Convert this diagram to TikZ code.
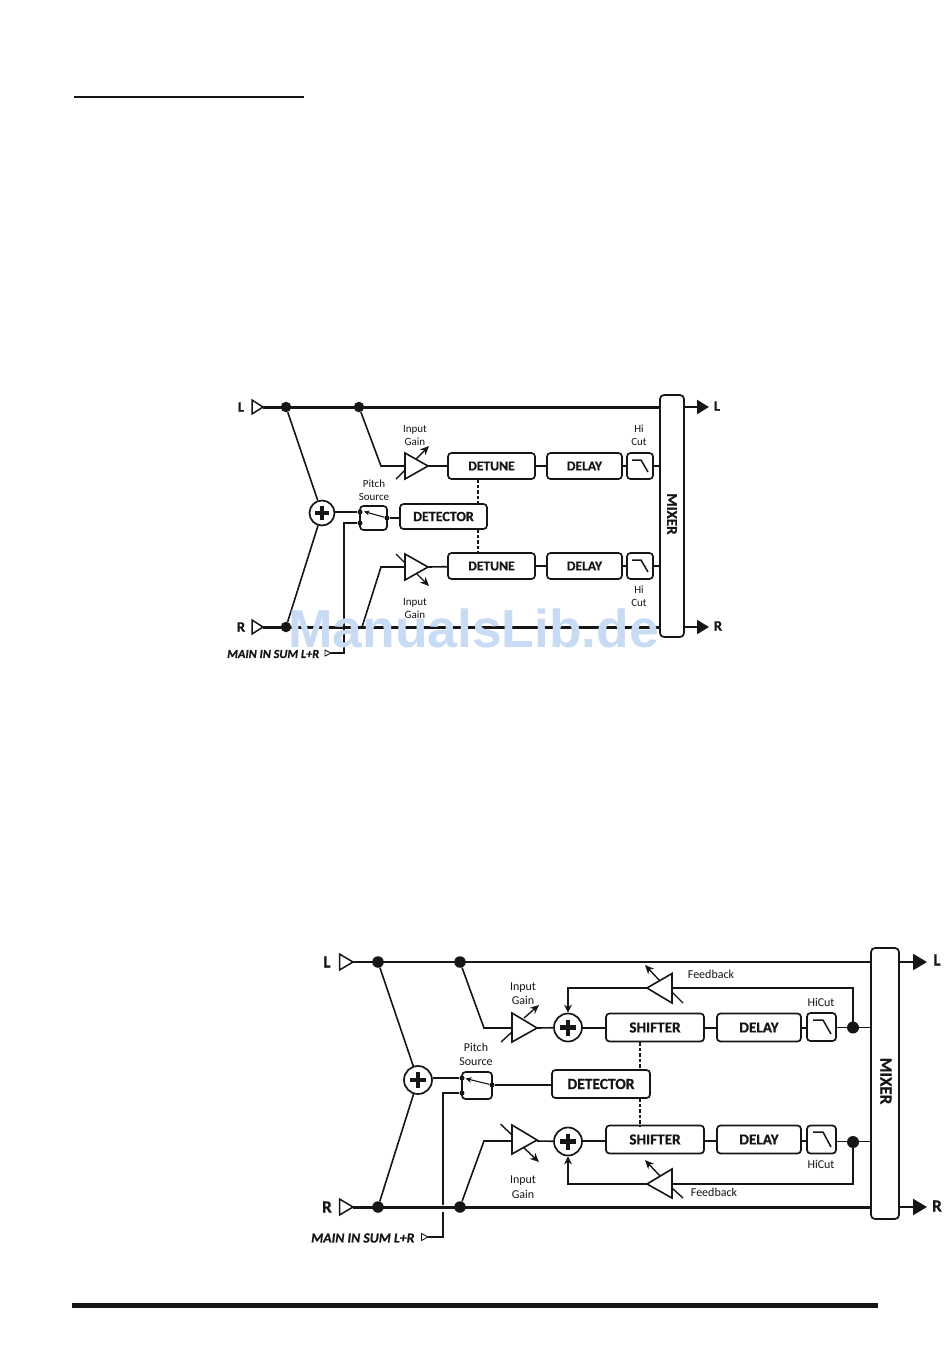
\documentclass[tikz,border=0pt]{standalone}
\usepackage{fontspec}
\setmainfont[BoldFeatures={FakeBold=0.6},BoldItalicFeatures={FakeBold=0.6}]{Carlito}
\newfontfamily\wmfont{Liberation Sans}
\usetikzlibrary{arrows.meta}
\definecolor{ink}{HTML}{161616}
\definecolor{wm}{HTML}{C8DBF4}
\tikzset{
  wire/.style={draw=ink,line width=1.6pt},
  busa/.style={draw=ink,line width=3pt},
  busb/.style={draw=ink,line width=2.4pt},
  fbk/.style={draw=ink,line width=2.4pt,line join=miter},
  amp/.style={draw=ink,line width=1.6pt,fill=white,line join=miter},
  glyph/.style={draw=ink,line width=1.5pt},
  varr/.style={draw=ink,line width=1.4pt,-{Stealth[length=9pt,width=8pt]}},
  varl/.style={draw=ink,line width=1.4pt},
  dashw/.style={draw=ink,line width=1.3pt,dash pattern=on 3.5pt off 2pt},
  outarr/.style={draw=ink,line width=2.4pt,-{Triangle[length=12pt,width=14pt]}},
  box/.style={draw=ink,line width=1.7pt,rounded corners=3.5pt,fill=white,inner sep=0pt,text=ink,font=\fontsize{13.6}{14}\bfseries\selectfont},
  boxb/.style={box,font=\fontsize{15.2}{16}\bfseries\selectfont},
  sumc/.style={draw=ink,circle,line width=1.7pt,fill=white,inner sep=0pt},
  dotn/.style={circle,fill=ink,inner sep=0pt,minimum size=10.5pt},
  dots/.style={circle,fill=ink,inner sep=0pt,minimum size=5pt},
  intri/.style={draw=ink,line width=1.5pt,fill=white},
  lab/.style={text=ink,align=center,inner sep=0pt,font=\fontsize{11}{13}\selectfont},
  labb/.style={text=ink,align=center,inner sep=0pt,font=\fontsize{12}{14.5}\selectfont},
  port/.style={text=ink,inner sep=0pt,font=\fontsize{14.5}{15}\bfseries\selectfont},
  portb/.style={text=ink,inner sep=0pt,font=\fontsize{17}{18}\bfseries\selectfont},
  mainlab/.style={text=ink,inner sep=0pt,font=\fontsize{12.3}{13}\bfseries\itshape\selectfont},
  mainlabb/.style={text=ink,inner sep=0pt,font=\fontsize{13.8}{14}\bfseries\itshape\selectfont},
  plusm/.style={draw=ink,line width=4pt}
}
\begin{document}
\begin{tikzpicture}[x=1pt,y=-1pt]
\useasboundingbox (0,0) rectangle (950,1361);
\fill[white] (0,0) rectangle (950,1361);
% page rules
\coordinate (ruleAa) at (74,97); \coordinate (ruleAb) at (304,97);
\coordinate (ruleBa) at (72,1305); \coordinate (ruleBb) at (878,1305);
\draw[draw=ink,line width=1.1pt] (ruleAa) -- (ruleAb);
\draw[draw=ink,line width=5pt] (ruleBa) -- (ruleBb);

%% ================= DIAGRAM 1 =================
\node[port] (aLin) at (241,407) {L};
\node[port] (aRin) at (241,627) {R};
\coordinate (aLt) at (263,407); \coordinate (aRt) at (263,627);
\node[dotn] (aD1) at (286,407) {};
\node[dotn] (aD2) at (359,407) {};
\node[dotn] (aD3) at (286,627) {};
\coordinate (aD4) at (359,627);
\node[box,minimum width=24pt,minimum height=242pt,rounded corners=4pt] (aMix) at (672,516) {};
\node[text=ink,inner sep=0pt,rotate=-90,font=\fontsize{15}{16}\bfseries\selectfont] (aMixT) at (672,514) {MIXER};
\coordinate (aMixL) at (660,407); \coordinate (aMixR) at (660,627);
\coordinate (aMixA) at (660,466); \coordinate (aMixB) at (660,566);
\coordinate (aOL) at (684,407); \coordinate (aOR) at (684,627);
\coordinate (aOLt) at (709,407); \coordinate (aORt) at (709,627);
\node[port] (aLout) at (717,406) {L};
\node[port] (aRout) at (718,626) {R};
\draw[busa] (aLt) -- (aMixL);
\draw[busa] (aRt) -- (aMixR);
\draw[outarr] (aOL) -- (aOLt);
\draw[outarr] (aOR) -- (aORt);
\draw[intri] (252,400) -- (263,407) -- (252,414) -- cycle;
\draw[intri] (252,620) -- (263,627) -- (252,634) -- cycle;
\node[sumc,minimum size=25pt] (aSum) at (322,513) {};
\draw[wire] (aD1) -- (aSum);
\draw[wire] (aD3) -- (aSum);
\draw[plusm] (315,513) -- (329,513);
\draw[plusm] (322,506) -- (322,520);
% switch
\node[box,minimum width=27pt,minimum height=24pt] (aSw) at (373.5,518) {};
\node[dots] (aS1) at (360,512) {};
\node[dots] (aS2) at (360,523) {};
\node[dots] (aS3) at (387,518) {};
\draw[draw=ink,line width=2.4pt] (aSum.east |- aS1) -- (aS1);
\coordinate (aMa) at (344,523); \coordinate (aMb) at (344,653); \coordinate (aMc) at (331,653);
\draw[wire] (aS2) -- (aMa) -- (aMb) -- (aMc);
\draw[intri,line width=.9pt] (325,650) -- (331,653) -- (325,656) -- cycle;
\draw[varr,line width=1.1pt,-{Stealth[length=5.5pt,width=5pt]}] (aS3) -- (364,511.5);
\node[box,font=\fontsize{14}{15}\bfseries\selectfont,minimum width=87pt,minimum height=25pt] (aDet) at (443.5,516.5) {DETECTOR};
\draw[wire] (aS3) -- (aDet.west |- aS3);
% amps
\coordinate (aA1) at (381,466); \coordinate (aA1i) at (405,466); \coordinate (aA1o) at (428,466);
\coordinate (aA2) at (381,567); \coordinate (aA2i) at (405,567); \coordinate (aA2o) at (428,567);
\coordinate (aD4b) at (362,627);
\draw[wire] (aD2) -- (aA1) -- (aA1i);
\draw[wire] (aD4b) -- (aA2) -- (aA2i);
\draw[amp] (405,453) -- (428,466) -- (405,479) -- cycle;
\draw[amp] (405,554) -- (428,567) -- (405,580) -- cycle;
\draw[varl] (396,479) -- (405,470);
\draw[varr] (416,459) -- (429,446);
\draw[varl] (396,554) -- (405,563);
\draw[varr] (416,573) -- (429,586);
\node[box,minimum width=87pt,minimum height=26pt] (aDt1) at (491.5,466) {DETUNE};
\node[box,minimum width=87pt,minimum height=26pt] (aDt2) at (491.5,566) {DETUNE};
\node[box,minimum width=75pt,minimum height=26pt] (aDl1) at (584.5,466) {DELAY};
\node[box,minimum width=75pt,minimum height=26pt] (aDl2) at (584.5,566) {DELAY};
\node[box,minimum width=26pt,minimum height=26pt] (aHc1) at (640,466) {};
\node[box,minimum width=26pt,minimum height=26pt] (aHc2) at (640,566) {};
\draw[glyph] (632,460) -- (641,460) -- (648,472);
\draw[glyph] (632,560) -- (641,560) -- (648,572);
\draw[wire] (aA1o) -- (aDt1);
\draw[wire] (aA2o) -- (aDt2);
\draw[wire] (aDt1) -- (aDl1);
\draw[wire] (aDt2) -- (aDl2);
\draw[wire] (aDl1) -- (aHc1);
\draw[wire] (aDl2) -- (aHc2);
\draw[wire] (aHc1) -- (aMixA);
\draw[wire] (aHc2) -- (aMixB);
\draw[dashw] (478,479) -- (478,504);
\draw[dashw] (478,529) -- (478,553);
\node[lab] (aIg1) at (415,435.5) {Input\\Gain};
\node[lab] (aIg2) at (415,608.5) {Input\\Gain};
\node[lab] (aPs) at (374,490.5) {Pitch\\Source};
\node[lab] (aHl1) at (639,435.5) {Hi\\Cut};
\node[lab] (aHl2) at (639,596) {Hi\\Cut};
\node[mainlab,anchor=west] (aMain) at (227,654) {MAIN IN SUM L+R};

%% ================= DIAGRAM 2 =================
\node[portb] (bLin) at (327,962) {L};
\node[portb] (bRin) at (327,1207) {R};
\coordinate (bLt) at (353,962); \coordinate (bRt) at (353,1207);
\node[dotn,minimum size=11.5pt] (bD1) at (378,962) {};
\node[dotn,minimum size=11.5pt] (bD2) at (460,962) {};
\node[dotn,minimum size=11.5pt] (bD3) at (378,1207) {};
\node[dotn,minimum size=11.5pt] (bD4) at (460,1207) {};
\node[box,minimum width=28pt,minimum height=271pt,rounded corners=4pt] (bMix) at (885,1083.5) {};
\node[text=ink,inner sep=0pt,rotate=-90,font=\fontsize{17}{18}\bfseries\selectfont] (bMixT) at (886,1081) {MIXER};
\coordinate (bMixL) at (871,962); \coordinate (bMixR) at (871,1207);
\coordinate (bOL) at (899,962); \coordinate (bOR) at (899,1207);
\coordinate (bOLt) at (927,962); \coordinate (bORt) at (927,1207);
\node[portb] (bLout) at (937,960) {L};
\node[portb] (bRout) at (937,1206) {R};
\draw[busb] (bLt) -- (bMixL);
\draw[busa] (bRt) -- (bMixR);
\draw[draw=ink,line width=2.4pt,-{Triangle[length=14pt,width=16pt]}] (bOL) -- (bOLt);
\draw[draw=ink,line width=2.4pt,-{Triangle[length=14pt,width=16pt]}] (bOR) -- (bORt);
\draw[intri] (339.5,954) -- (353,962) -- (339.5,970) -- cycle;
\draw[intri] (339.5,1199) -- (353,1207) -- (339.5,1215) -- cycle;
\node[sumc,minimum size=28pt] (bSum) at (418,1080) {};
\draw[wire] (bD1) -- (bSum);
\draw[wire] (bD3) -- (bSum);
\draw[plusm,line width=4.5pt] (410,1080) -- (426,1080);
\draw[plusm,line width=4.5pt] (418,1072) -- (418,1088);
% switch
\node[box,minimum width=30pt,minimum height=27pt] (bSw) at (477,1085.5) {};
\node[dots] (bS1) at (462,1078) {};
\node[dots] (bS2) at (462,1093) {};
\node[dots] (bS3) at (492,1085) {};
\draw[draw=ink,line width=2.6pt] (bSum.east |- bS1) -- (bS1);
\coordinate (bMa) at (443,1093); \coordinate (bMb) at (443,1204.5); \coordinate (bMb2) at (443,1212); \coordinate (bMc) at (443,1237); \coordinate (bMd) at (428,1237);
\draw[wire] (bS2) -- (bMa) -- (bMb);
\draw[wire] (bMb2) -- (bMc) -- (bMd);
\draw[intri,line width=.9pt] (421.5,1233.5) -- (428,1237) -- (421.5,1240.5) -- cycle;
\draw[varr,line width=1.1pt,-{Stealth[length=6pt,width=5.5pt]}] (bS3) -- (465.5,1078.5);
\node[box,font=\fontsize{15.5}{16}\bfseries\selectfont,minimum width=98pt,minimum height=28pt] (bDet) at (601,1084) {DETECTOR};
\draw[wire] (bS3) -- (bDet.west |- bS3);
% input amps
\coordinate (bA1) at (484,1028); \coordinate (bA1i) at (512,1028); \coordinate (bA1o) at (537,1028);
\coordinate (bA2) at (484,1141); \coordinate (bA2i) at (512,1141); \coordinate (bA2o) at (537,1141);
\draw[wire] (bD2) -- (bA1) -- (bA1i);
\draw[wire] (bD4) -- (bA2) -- (bA2i);
\draw[amp] (512,1013) -- (537,1028) -- (512,1042) -- cycle;
\draw[amp] (512,1125) -- (537,1140) -- (512,1154) -- cycle;
\draw[varl] (501,1042) -- (512,1032);
\draw[varr] (524,1018) -- (539,1005);
\draw[varl] (500.5,1124) -- (512,1135);
\draw[varr] (523,1147) -- (539,1162);
\node[sumc,minimum size=28pt] (bS1p) at (568,1027.5) {};
\node[sumc,minimum size=28pt] (bS2p) at (568,1141.5) {};
\draw[plusm,line width=4.5pt] (560,1027.5) -- (576,1027.5);
\draw[plusm,line width=4.5pt] (568,1019.5) -- (568,1035.5);
\draw[plusm,line width=4.5pt] (560,1141.5) -- (576,1141.5);
\draw[plusm,line width=4.5pt] (568,1133.5) -- (568,1149.5);
\node[boxb,minimum width=98pt,minimum height=28pt] (bSh1) at (655,1027.5) {SHIFTER};
\node[boxb,minimum width=98pt,minimum height=28pt] (bSh2) at (655,1139.5) {SHIFTER};
\node[boxb,minimum width=84pt,minimum height=28pt] (bDl1) at (759,1027.5) {DELAY};
\node[boxb,minimum width=84pt,minimum height=28pt] (bDl2) at (759,1139.5) {DELAY};
\node[box,minimum width=29pt,minimum height=28pt] (bHc1) at (821.5,1027) {};
\node[box,minimum width=29pt,minimum height=28pt] (bHc2) at (821.5,1139.5) {};
\draw[glyph] (813,1020) -- (823,1020) -- (831,1034);
\draw[glyph] (813,1132) -- (823,1132) -- (831,1147);
\draw[wire] (bA1o) -- (bS1p);
\draw[wire] (bA2o) -- (bS2p);
\coordinate (bW1a) at (582,1028); \coordinate (bW1b) at (606,1028);
\coordinate (bW2a) at (582,1141); \coordinate (bW2b) at (606,1141);
\draw[wire] (bW1a) -- (bW1b);
\draw[wire] (bW2a) -- (bW2b);
\coordinate (bW3a) at (704,1028); \coordinate (bW3b) at (717,1028);
\coordinate (bW4a) at (704,1141); \coordinate (bW4b) at (717,1141);
\draw[wire] (bW3a) -- (bW3b);
\draw[wire] (bW4a) -- (bW4b);
\coordinate (bW5a) at (801,1028); \coordinate (bW5b) at (807,1028);
\coordinate (bW6a) at (801,1141); \coordinate (bW6b) at (807,1141);
\draw[wire] (bW5a) -- (bW5b);
\draw[wire] (bW6a) -- (bW6b);
\coordinate (bW7a) at (836,1027.5); \coordinate (bW7b) at (871,1027.5);
\coordinate (bW8a) at (836,1141.5); \coordinate (bW8b) at (871,1141.5);
\draw[wire] (bW7a) -- (bW7b);
\draw[wire] (bW8a) -- (bW8b);
\node[dotn,minimum size=12pt] (bF1) at (853,1027.5) {};
\node[dotn,minimum size=12pt] (bF2) at (853,1142) {};
% feedback
\coordinate (bFa) at (853,988); \coordinate (bFb) at (672,988); \coordinate (bFc) at (647,988); \coordinate (bFd) at (568,988);
\coordinate (bGa) at (853,1184); \coordinate (bGb) at (672,1184); \coordinate (bGc) at (647,1184); \coordinate (bGd) at (568,1184);
\draw[fbk] (bF1.center) -- (bFa) -- (bFb);
\draw[fbk] (bF2.center) -- (bGa) -- (bGb);
\draw[fbk,-{Stealth[length=8pt,width=8pt]}] (bFc) -- (bFd) -- (bS1p.north);
\draw[fbk,-{Stealth[length=8pt,width=8pt]}] (bGc) -- (bGd) -- (bS2p.south);
\draw[amp] (672,973.5) -- (647,988) -- (672,1003) -- cycle;
\draw[amp] (672,1169) -- (647,1184) -- (672,1198) -- cycle;
\draw[varr] (660,981) -- (645,965);
\draw[varl] (672,992) -- (683,1003);
\draw[varr] (660,1176) -- (645,1160);
\draw[varl] (672,1188) -- (683,1198);
\draw[dashw] (640,1042) -- (640,1070);
\draw[dashw] (640,1098) -- (640,1126);
\node[labb] (bIg1) at (523,993.5) {Input\\Gain};
\node[labb] (bIg2) at (523,1187) {Input\\Gain};
\node[labb] (bPs) at (476,1054.5) {Pitch\\Source};
\node[labb] (bFl1) at (711,974) {Feedback};
\node[labb] (bFl2) at (714,1192) {Feedback};
\node[labb] (bHl1) at (821,1002) {HiCut};
\node[labb] (bHl2) at (821,1164) {HiCut};
\node[mainlabb,anchor=west] (bMain) at (311,1238) {MAIN IN SUM L+R};

%% watermark
\node[text=wm,inner sep=0pt,anchor=base west,font=\fontsize{53.4}{56}\wmfont\bfseries\selectfont] (wmk) at (288,647) {ManualsLib.de};
\end{tikzpicture}
\end{document}
